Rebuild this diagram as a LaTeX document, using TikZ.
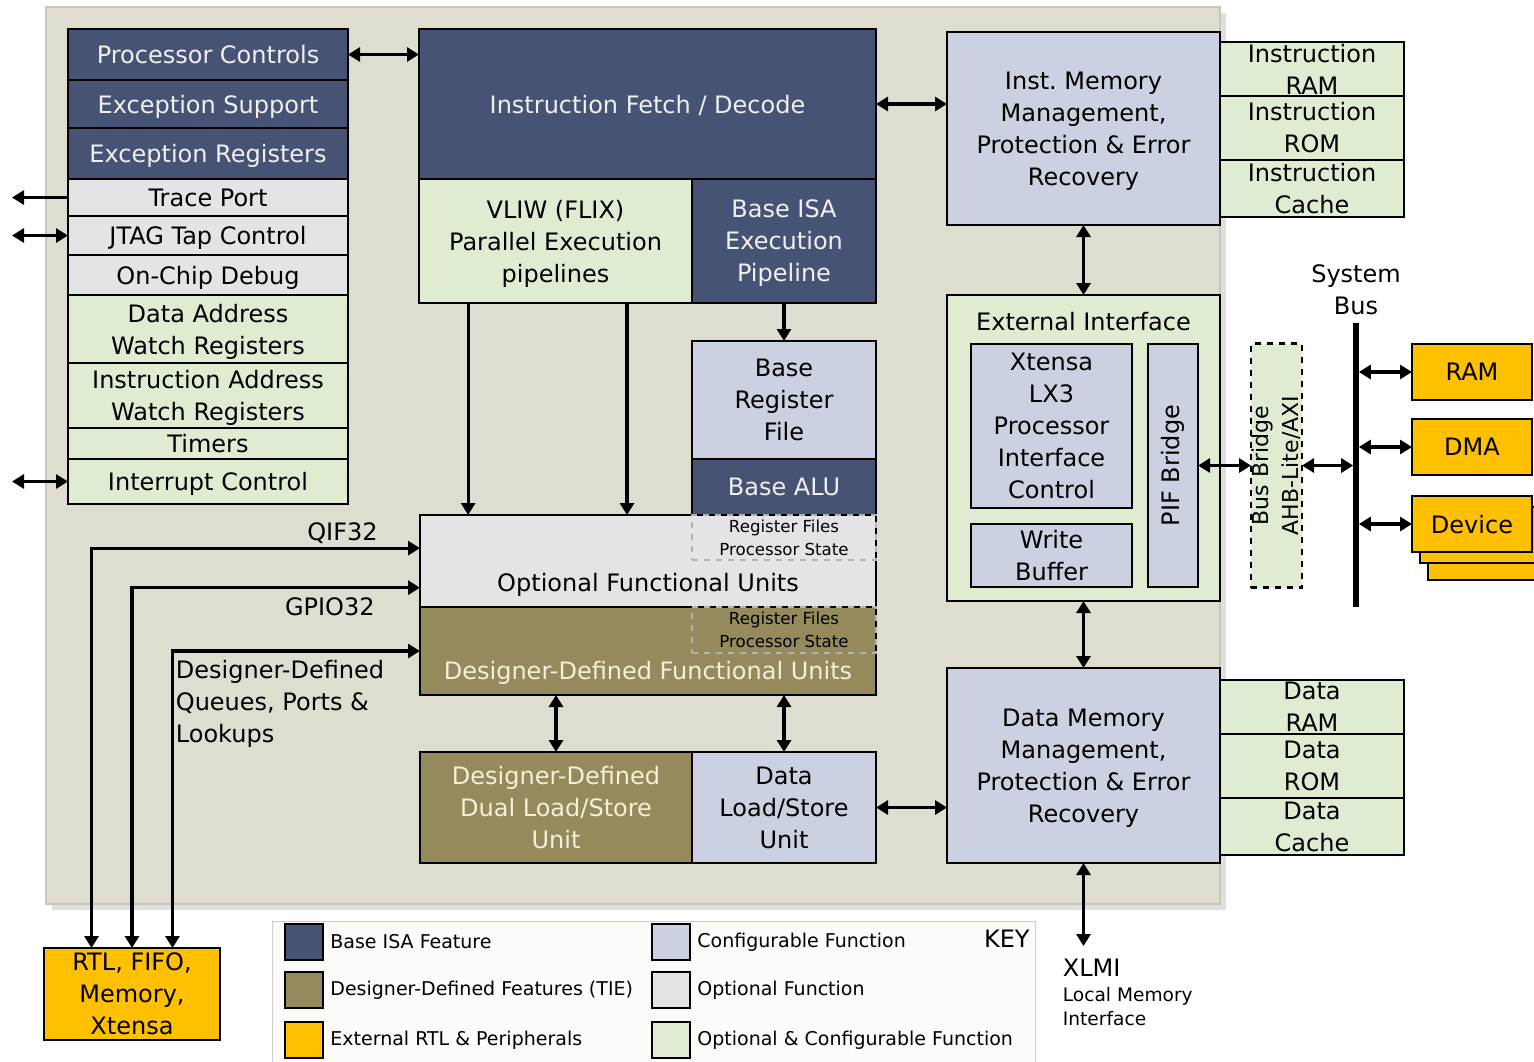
\documentclass[tikz,border=0pt]{standalone}
\usepackage{fontspec}
\setmainfont{DejaVu Sans}
\usetikzlibrary{positioning}
\usetikzlibrary{shadows}
\usetikzlibrary{calc}
\usetikzlibrary{arrows.meta}

\definecolor{isablue}{RGB}{70,83,117}
\definecolor{tieolive}{RGB}{148,138,92}
\definecolor{cfgblue}{RGB}{203,209,224}
\definecolor{optgray}{RGB}{228,228,228}
\definecolor{optgreen}{RGB}{223,236,210}
\definecolor{rtlorange}{RGB}{255,192,0}
\definecolor{panelbg}{RGB}{222,221,208}
\definecolor{keybg}{RGB}{252,251,248}
\definecolor{tietext}{RGB}{245,240,216}

\begin{document}
\begin{tikzpicture}[x=0.5pt, y=-0.5pt, font=\fontsize{12}{16}\selectfont,
  blk/.style={draw, rectangle, line width=1.4pt, outer sep=0pt, inner sep=1pt, align=center, text depth=0pt},
  isa/.style={blk, fill=isablue, text=white!94!black},
  tie/.style={blk, fill=tieolive, text=tietext},
  cfg/.style={blk, fill=cfgblue},
  opt/.style={blk, fill=optgray},
  optcfg/.style={blk, fill=optgreen},
  rtl/.style={blk, fill=rtlorange},
  stack/.style={minimum width=140pt},
  regs/.style={draw=gray!60, dashed, line width=1.3pt, rectangle, outer sep=0pt, inner sep=0pt, align=center, font=\fontsize{8.3}{11.5}\selectfont},
  link/.style={line width=1.6pt, {Triangle[length=6pt,width=7pt]}-{Triangle[length=6pt,width=7pt]}},
  oneway/.style={line width=1.6pt, -{Triangle[length=6pt,width=7pt]}},
  swatch/.style={draw, rectangle, line width=1.3pt, minimum width=19pt, minimum height=18pt, outer sep=0pt, inner sep=0pt},
  keytxt/.style={inner sep=0pt, font=\fontsize{9.5}{11}\selectfont}
]
\useasboundingbox (0,0) rectangle (1534,1061);
\clip (0,0) rectangle (1534,1061);

% core panel
\node[draw=gray!45, line width=0.6pt, fill=panelbg, rectangle, outer sep=0pt, minimum width=587pt, minimum height=448.5pt, anchor=north west, drop shadow={shadow xshift=3pt, shadow yshift=-3pt, opacity=0.25}] (panel) at (46,7) {};

% left stack
\node[isa, stack, minimum height=25.5pt, anchor=north west] (pc) at (68,29) {Processor Controls};
\node[isa, stack, minimum height=24pt, below=0pt of pc] (exs) {Exception Support};
\node[isa, stack, minimum height=25.5pt, below=0pt of exs] (exr) {Exception Registers};
\node[opt, stack, minimum height=18.5pt, below=0pt of exr] (trace) {Trace Port};
\node[opt, stack, minimum height=19.5pt, below=0pt of trace] (jtag) {JTAG Tap Control};
\node[opt, stack, minimum height=20pt, below=0pt of jtag] (ocd) {On-Chip Debug};
\node[optcfg, stack, minimum height=34pt, below=0pt of ocd] (daw) {Data Address\\Watch Registers};
\node[optcfg, stack, minimum height=32.5pt, below=0pt of daw] (iaw) {Instruction Address\\Watch Registers};
\node[optcfg, stack, minimum height=15.5pt, below=0pt of iaw] (tmr) {Timers};
\node[optcfg, stack, minimum height=22.5pt, below=0pt of tmr] (intc) {Interrupt Control};

% pipeline
\node[isa, minimum width=228.5pt, minimum height=75pt, anchor=north west] (ifd) at (419,29) {Instruction Fetch / Decode};
\node[optcfg, minimum width=136.5pt, minimum height=62pt, anchor=north west] (vliw) at (ifd.south west) {VLIW (FLIX)\\Parallel Execution\\pipelines};
\node[isa, minimum width=92pt, minimum height=62pt, anchor=north east] (bisa) at (ifd.south east) {Base ISA\\Execution\\Pipeline};
\node[cfg, minimum width=92pt, minimum height=59pt, below=19pt of bisa] (brf) {Base\\Register\\File};
\node[isa, minimum width=92pt, minimum height=28pt, below=0pt of brf] (alu) {Base ALU};
\node[opt, minimum width=228pt, minimum height=46pt, anchor=north east] (ofu) at (alu.south east) {};
\node[regs, minimum width=92pt, minimum height=22.5pt, anchor=north east] (ofuregs) at (ofu.north east) {Register Files\\Processor State};
\node[anchor=base] (ofutxt) at ($(ofu.south)+(0,-15.5)$) {Optional Functional Units};
\node[tie, minimum width=228pt, minimum height=44pt, below=0pt of ofu] (ddfu) {};
\node[regs, minimum width=92pt, minimum height=23pt, anchor=north east] (ddfuregs) at (ddfu.north east) {Register Files\\Processor State};
\node[anchor=base, text=tietext] (ddfutxt) at ($(ddfu.south)+(0,-15.5)$) {Designer-Defined Functional Units};
\node[tie, minimum width=136pt, minimum height=55.5pt, anchor=north west] (ddls) at ($(ddfu.south west)+(0,57)$) {Designer-Defined\\Dual Load/Store\\Unit};
\node[cfg, minimum width=92pt, minimum height=55.5pt, anchor=north west] (dls) at (ddls.north east) {Data\\Load/Store\\Unit};

% memories and interface
\node[cfg, minimum width=136.5pt, minimum height=96.5pt, anchor=north west] (imm) at (947,32) {Inst.\ Memory\\Management,\\Protection \& Error\\Recovery};
\node[optcfg, minimum width=92pt, minimum height=27pt, anchor=north west, label={[align=center]center:{Instruction\\RAM}}] (iram) at ($(imm.north east)+(0,10)$) {};
\node[optcfg, minimum width=92pt, minimum height=32pt, below=0pt of iram, label={[align=center]center:{Instruction\\ROM}}] (irom) {};
\node[optcfg, minimum width=92pt, minimum height=28.5pt, below=0pt of irom, label={[align=center]center:{Instruction\\Cache}}] (icache) {};

\node[optcfg, minimum width=136.5pt, minimum height=153pt, below=35pt of imm] (ext) {};
\node[anchor=north, inner sep=0pt] (exttitle) at ($(ext.north)+(0,17)$) {External Interface};
\node[cfg, minimum width=80.5pt, minimum height=82pt, anchor=north west] (xpic) at ($(ext.north west)+(24,49)$) {Xtensa\\LX3\\Processor\\Interface\\Control};
\node[cfg, minimum width=80.5pt, minimum height=31.5pt, below=8pt of xpic] (wbuf) {Write\\Buffer};
\node[cfg, minimum width=25pt, minimum height=121.5pt, anchor=north west, label={[rotate=90]center:PIF Bridge}] (pif) at ($(xpic.north east)+(16,0)$) {};

\node[cfg, minimum width=136.5pt, minimum height=97.5pt, below=33.5pt of ext] (dmm) {Data Memory\\Management,\\Protection \& Error\\Recovery};
\node[optcfg, minimum width=92pt, minimum height=27pt, anchor=north west, label={[align=center]center:{Data\\RAM}}] (dram) at ($(dmm.north east)+(0,12)$) {};
\node[optcfg, minimum width=92pt, minimum height=32pt, below=0pt of dram, label={[align=center]center:{Data\\ROM}}] (drom) {};
\node[optcfg, minimum width=92pt, minimum height=28.5pt, below=0pt of drom, label={[align=center]center:{Data\\Cache}}] (dcache) {};

% system bus side
\node[draw, dashed, line width=1.3pt, fill=optgreen, rectangle, outer sep=0pt, minimum width=25.5pt, minimum height=122pt, anchor=west, label={[rotate=90, align=center, font=\fontsize{11}{15}\selectfont]center:{Bus Bridge\\AHB-Lite/AXI}}] (busbr) at ($(pif.east)+(53,0)$) {};
\coordinate (bustop) at (1356,323);
\coordinate (busbot) at (1356,607);
\draw[line width=2.8pt] (bustop) -- (busbot);
\node[anchor=south, inner sep=0pt, align=center] (sysbus) at ($(bustop)+(0,-8)$) {System\\Bus};
\node[rtl, minimum width=60pt, minimum height=28pt, anchor=west] (ram) at ($(bustop)+(56,49)$) {RAM};
\node[rtl, minimum width=60pt, minimum height=28pt, below=9.5pt of ram] (dma) {DMA};
\node[rtl, minimum width=60pt, minimum height=28pt, anchor=north west] (devc) at ($(dma.south west)+(16,49)$) {};
\node[rtl, minimum width=60pt, minimum height=28pt, anchor=north west] (devb) at ($(dma.south west)+(8,32)$) {};
\node[rtl, minimum width=60pt, minimum height=28pt, below=10.5pt of dma] (dev) {Device};

% external RTL
\node[rtl, minimum width=88pt, minimum height=46pt, inner sep=0pt, anchor=north west] (rtlbox) at (44,948) {RTL, FIFO,\\Memory,\\Xtensa};

% connectors
\coordinate (leftedge) at (12,0);
\draw[link] (pc.east) -- (pc.east -| ifd.west);
\draw[oneway] (trace.west) -- (trace.west -| leftedge);
\draw[link] (jtag.west) -- (jtag.west -| leftedge);
\draw[link] (intc.west) -- (intc.west -| leftedge);
\draw[link] (ifd.east) -- (ifd.east -| imm.west);
\coordinate (vl) at ($(vliw.south west)!0.18!(vliw.south east)$);
\coordinate (vr) at ($(vliw.south west)!0.762!(vliw.south east)$);
\draw[oneway] (vl) -- (vl |- ofu.north);
\draw[oneway] (vr) -- (vr |- ofu.north);
\draw[oneway] (bisa.south) -- (brf.north);
\draw[link] (ddls.north) -- (ddls.north |- ddfu.south);
\draw[link] (dls.north) -- (dls.north |- ddfu.south);
\draw[link] (dls.east) -- (dls.east -| dmm.west);
\draw[link] (imm.south) -- (ext.north);
\draw[link] (ext.south) -- (dmm.north);
\draw[link] (pif.east) -- (busbr.west);
\draw[link, shorten >=1.4pt] (busbr.east) -- (busbr.east -| bustop);
\draw[link, shorten <=1.4pt] (ram.west -| bustop) -- (ram.west);
\draw[link, shorten <=1.4pt] (dma.west -| bustop) -- (dma.west);
\draw[link, shorten <=1.4pt] (dev.west -| bustop) -- (dev.west);
\coordinate (xlmi) at ($(dmm.south)+(0,83)$);
\draw[link] (dmm.south) -- (xlmi);
\node[anchor=north west, inner sep=0pt] (xlmitxt) at ($(xlmi)+(-21,13)$) {XLMI};
\node[anchor=north west, inner sep=0pt, align=left, font=\fontsize{9.3}{12}\selectfont] (lmitxt) at ($(xlmitxt.south west)+(0,10)$) {Local Memory\\Interface};

\coordinate (qifin) at ($(ofu.north west)!0.36!(ofu.south west)$);
\coordinate (gpioin) at ($(ofu.north west)!0.79!(ofu.south west)$);
\coordinate (dqin) at (ddfu.west);
\coordinate (qifout) at ($(rtlbox.north west)!0.27!(rtlbox.north east)$);
\coordinate (gpioout) at (rtlbox.north);
\coordinate (dqout) at ($(rtlbox.north west)!0.73!(rtlbox.north east)$);
\draw[link] (qifin) -| (qifout);
\draw[link] (gpioin) -| (gpioout);
\draw[link] (dqin) -| (dqout);
\node[anchor=base east, inner sep=0pt] (qiflbl) at ($(qifin)+(-42,-8)$) {QIF32};
\node[anchor=base east, inner sep=0pt] (gpiolbl) at ($(gpioin)+(-45,28)$) {GPIO32};
\node[anchor=north west, inner sep=0pt, align=left] (dqlbl) at ($(dqin -| dqout)+(3,9)$) {Designer-Defined\\Queues, Ports \&\\Lookups};

% key
\node[draw=gray!40, fill=keybg, rectangle, outer sep=0pt, minimum width=381.5pt, minimum height=80pt, anchor=north west] (key) at (272,921) {};
\node[anchor=north east, inner sep=0pt] (keyttl) at ($(key.north east)+(-5,9)$) {KEY};
\node[swatch, fill=isablue, anchor=north west] (kisa) at ($(key.north west)+(13,3)$) {};
\node[keytxt, right=3.5pt of kisa] (kisatxt) {Base ISA Feature};
\node[swatch, fill=tieolive, below=6pt of kisa] (ktie) {};
\node[keytxt, right=3.5pt of ktie] (ktietxt) {Designer-Defined Features (TIE)};
\node[swatch, fill=rtlorange, below=7pt of ktie] (krtl) {};
\node[keytxt, right=3.5pt of krtl] (krtltxt) {External RTL \& Peripherals};
\node[swatch, fill=cfgblue, anchor=north west] (kcfg) at ($(kisa.north west)+(367,0)$) {};
\node[keytxt, right=3.5pt of kcfg] (kcfgtxt) {Configurable Function};
\node[swatch, fill=optgray, below=6pt of kcfg] (kopt) {};
\node[keytxt, right=3.5pt of kopt] (kopttxt) {Optional Function};
\node[swatch, fill=optgreen, below=7pt of kopt] (koptcfg) {};
\node[keytxt, right=3.5pt of koptcfg] (koptcfgtxt) {Optional \& Configurable Function};
\end{tikzpicture}
\end{document}
